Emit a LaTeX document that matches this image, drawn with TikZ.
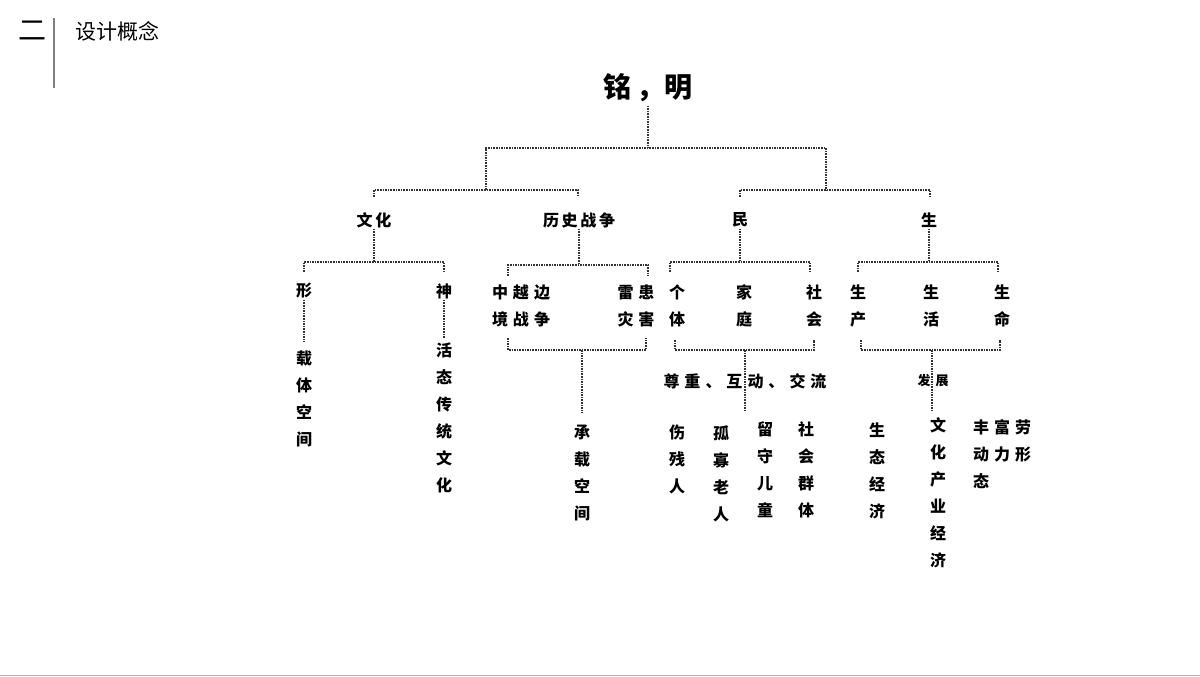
\documentclass[tikz,border=0pt]{standalone}
\usepackage{fontspec}
\setmainfont{Noto Sans CJK SC}
\newfontfamily\cjk{Noto Sans CJK SC}
\newcommand{\gap}{\hspace{5pt}}
\begin{document}
\begin{tikzpicture}[x=1pt,y=-1pt,
  lbl/.style={font=\cjk\bfseries\fontsize{16}{27}\selectfont,inner sep=1pt,align=center},
  col/.style={lbl,anchor=north},
  link/.style={densely dotted,line width=1.6pt,black!80}]
  \useasboundingbox (0,0) rectangle (1200,677);
  % header
  \node (hnum) at (32,31) {\cjk\fontsize{28}{28}\selectfont 二};
  \draw[gray,line width=1.5pt] (54,18) -- (54,88);
  \node[anchor=west] (htitle) at (72,31) {\cjk\fontsize{21}{21}\selectfont 设计概念};
  \draw[gray!60] (0,675) -- (1200,675);
  % root
  \node[font=\cjk\bfseries\fontsize{28}{28}\selectfont] (root) at (648,88) {铭\,，明};
  \draw[link] (root.south) -- (648,148);
  \draw[link] (486,190) -- (486,148) -- (826,148) -- (826,190);
  \draw[link] (374,197) -- (374,190) -- (578,190) -- (578,197);
  \draw[link] (740,197) -- (740,190) -- (930,190) -- (930,197);
  % level two
  \node[lbl] (wh) at (374,220) {文\,化};
  \node[lbl] (ls) at (579,220) {历\,史\,战\,争};
  \node[lbl] (min) at (740,220) {民};
  \node[lbl] (sh) at (929,220) {生};
  \draw[link] (wh.south) -- (374,262);
  \draw[link] (304,272) -- (304,262) -- (444,262) -- (444,272);
  \draw[link] (ls.south) -- (579,265);
  \draw[link] (508,276) -- (508,265) -- (648,265) -- (648,276);
  \draw[link] (min.south) -- (740,262);
  \draw[link] (670,272) -- (670,262) -- (810,262) -- (810,272);
  \draw[link] (sh.south) -- (929,262);
  \draw[link] (858,272) -- (858,262) -- (998,262) -- (998,272);
  % level three
  \node[lbl] (xing) at (304,291) {形};
  \node[lbl] (shen) at (444,291) {神};
  \node[lbl,align=left] (zy) at (521,306) {中\gap 越\gap 边\\境\gap 战\gap 争};
  \node[lbl] (lh) at (636,306) {雷\gap 患\\灾\gap 害};
  \node[lbl] (gt) at (677,306) {个\\体};
  \node[lbl] (jt) at (744,306) {家\\庭};
  \node[lbl] (sq) at (814,306) {社\\会};
  \node[lbl] (sc) at (858,306) {生\\产};
  \node[lbl] (sw) at (931,306) {生\\活};
  \node[lbl] (sm) at (1002,306) {生\\命};
  \draw[link] (xing.south) -- (304,342);
  \draw[link] (shen.south) -- (444,338);
  \draw[link] (508,338) -- (508,350) -- (646,350) -- (646,338);
  \draw[link] (675,340) -- (675,350) -- (814,350) -- (814,340);
  \draw[link] (861,340) -- (861,350) -- (1000,350) -- (1000,340);
  % middle labels
  \coordinate (mj) at (745,350);
  \coordinate (sj) at (932,350);
  \node[lbl] (hd) at (745,381) {尊\gap 重\gap 、\gap 互\gap 动\gap 、\gap 交\gap 流};
  \node[lbl,font=\cjk\bfseries\fontsize{13}{13}\selectfont] (fz) at (933,381) {发\gap 展};
  \draw[link] (582,350) -- (582,413);
  \draw[link] (mj) -- (745,410);
  \draw[link] (sj) -- (932,412);
  % leaves
  \node[col] (zt) at (304,350) {载\\体\\空\\间};
  \node[col] (ht) at (444,342) {活\\态\\传\\统\\文\\化};
  \node[col] (cz) at (582,424) {承\\载\\空\\间};
  \node[col] (scr) at (677,424) {伤\\残\\人};
  \node[col] (gg) at (721,424) {孤\\寡\\老\\人};
  \node[col] (ls2) at (765,420) {留\\守\\儿\\童};
  \node[col] (sqq) at (806,420) {社\\会\\群\\体};
  \node[col] (stj) at (877,422) {生\\态\\经\\济};
  \node[col] (wcj) at (938,416) {文\\化\\产\\业\\经\\济};
  \node[lbl,anchor=north west,align=left] (fl) at (972,418) {丰\gap 富\gap 劳\\动\gap 力\gap 形\\态};
\end{tikzpicture}
\end{document}
